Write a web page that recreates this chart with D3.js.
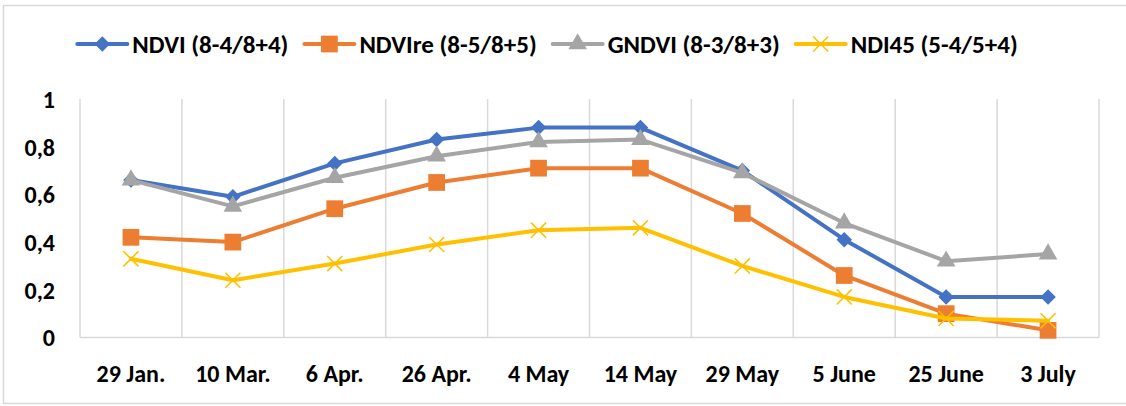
<!DOCTYPE html>
<html>
<head>
<meta charset="utf-8">
<script src="https://cdn.jsdelivr.net/npm/d3@7"></script>
<style>
    body { margin: 0; background: #fff; }
    svg text { font-family: Carlito, Lato, "Liberation Sans", sans-serif; font-weight: bold; fill: #000; }
</style>
</head>
<body>
<div id="chart"></div>
<script>
// Data

const categories = ["29 Jan.", "10 Mar.", "6 Apr.", "26 Apr.", "4 May", "14 May", "29 May", "5 June", "25 June", "3 July"];
const ndvi   = [0.66, 0.59, 0.73, 0.83, 0.88, 0.88, 0.70, 0.41, 0.17, 0.17];
const ndvire = [0.42, 0.40, 0.54, 0.65, 0.71, 0.71, 0.52, 0.26, 0.10, 0.03];
const gndvi  = [0.66, 0.55, 0.67, 0.76, 0.82, 0.83, 0.69, 0.48, 0.32, 0.35];
const ndi45  = [0.33, 0.24, 0.31, 0.39, 0.45, 0.46, 0.30, 0.17, 0.08, 0.07];
const seriesNames = ["NDVI (8-4/8+4)", "NDVIre (8-5/8+5)", "GNDVI (8-3/8+3)", "NDI45 (5-4/5+4)"];
const yTicks = [0, 0.2, 0.4, 0.6, 0.8, 1];

const series = [
    { name: seriesNames[0], values: ndvi,   color: "#4472C4", marker: "diamond" },
    { name: seriesNames[1], values: ndvire, color: "#ED7D31", marker: "square" },
    { name: seriesNames[2], values: gndvi,  color: "#A5A5A5", marker: "triangle" },
    { name: seriesNames[3], values: ndi45,  color: "#FFC000", marker: "x" }
];

const width = 1126, height = 406;
const margin = { top: 99, right: 27, bottom: 68.5, left: 80 };
const fontSize = 24;
const legendFontSize = 25;

const svg = d3.select("#chart")
    .append("svg")
    .attr("width", width)
    .attr("height", height);

// chart border
svg.append("rect")
    .attr("x", 3.5).attr("y", 5.5)
    .attr("width", width).attr("height", 398)
    .attr("fill", "none")
    .attr("stroke", "#d9d9d9")
    .attr("stroke-width", 1.5);

// Scales

const x = d3.scaleBand()
    .domain(categories)
    .range([margin.left, width - margin.right])
    .padding(0);

const y = d3.scaleLinear()
    .domain([0, 1])
    .range([height - margin.bottom, margin.top]);

const cx = d => x(d) + x.bandwidth() / 2;

// Gridlines (vertical, between categories)

const gridX = categories.map(c => x(c)).concat([x.range()[1]]);
svg.append("g")
    .selectAll("line")
    .data(gridX)
    .join("line")
    .attr("x1", d => d).attr("x2", d => d)
    .attr("y1", y(1)).attr("y2", y(0))
    .attr("stroke", "#d9d9d9")
    .attr("stroke-width", 1.5);

svg.append("line")
    .attr("x1", x.range()[0]).attr("x2", x.range()[1])
    .attr("y1", y(0)).attr("y2", y(0))
    .attr("stroke", "#d9d9d9")
    .attr("stroke-width", 1.5);

// Axes

const yAxis = svg.append("g")
    .attr("transform", `translate(${margin.left - 25},0)`)
    .call(d3.axisLeft(y).tickValues(yTicks).tickSize(0).tickPadding(0)
        .tickFormat(d => String(d).replace(".", ",")));
yAxis.select(".domain").remove();
yAxis.selectAll("text").attr("font-size", fontSize).attr("dy", "0.35em");

const xAxis = svg.append("g")
    .attr("transform", `translate(0,${y(0)})`)
    .call(d3.axisBottom(x).tickSize(0).tickPadding(0));
xAxis.select(".domain").remove();
xAxis.selectAll("text").attr("font-size", fontSize).attr("dy", null).attr("y", 44);

// Markers

const symbolFor = {
    diamond: d3.symbol(d3.symbolSquare, 120),
    square: d3.symbol(d3.symbolSquare, 280),
    triangle: d3.symbol(d3.symbolTriangle, 150),
    x: d3.symbol(d3.symbolX, 150)
};
const rotateFor = { diamond: 45, square: 0, triangle: 0, x: 0 };

function drawMarker(g, s, px, py) {
    const p = g.append("path")
        .attr("d", symbolFor[s.marker]())
        .attr("transform", `translate(${px},${py}) rotate(${rotateFor[s.marker]})`);
    if (s.marker === "x") {
        p.attr("fill", "none").attr("stroke", s.color).attr("stroke-width", 1.6);
    } else {
        p.attr("fill", s.color);
    }
}

// Lines

const line = d3.line()
    .x((d, i) => cx(categories[i]))
    .y(d => y(d));

series.forEach(s => {
    const g = svg.append("g");
    g.append("path")
        .datum(s.values)
        .attr("d", line)
        .attr("fill", "none")
        .attr("stroke", s.color)
        .attr("stroke-width", 4)
        .attr("stroke-linejoin", "round")
        .attr("stroke-linecap", "round");
    s.values.forEach((v, i) => drawMarker(g, s, cx(categories[i]), y(v)));
});

// Legend

const legend = svg.append("g");
const legendY = 44;
const legendGap = 16;
let lx = 0;
series.forEach(s => {
    const g = legend.append("g").attr("transform", `translate(${lx},0)`);
    g.append("line")
        .attr("x1", 0).attr("x2", 50)
        .attr("y1", legendY).attr("y2", legendY)
        .attr("stroke", s.color)
        .attr("stroke-width", 4)
        .attr("stroke-linecap", "round");
    drawMarker(g, s, 25, legendY);
    const t = g.append("text")
        .attr("x", 55)
        .attr("y", legendY + 9)
        .attr("font-size", legendFontSize)
        .text(s.name);
    lx += 55 + t.node().getComputedTextLength() + legendGap;
});
const legendWidth = lx - legendGap;
legend.attr("transform", `translate(${547.5 - legendWidth / 2},0)`);
</script>
</body>
</html>
